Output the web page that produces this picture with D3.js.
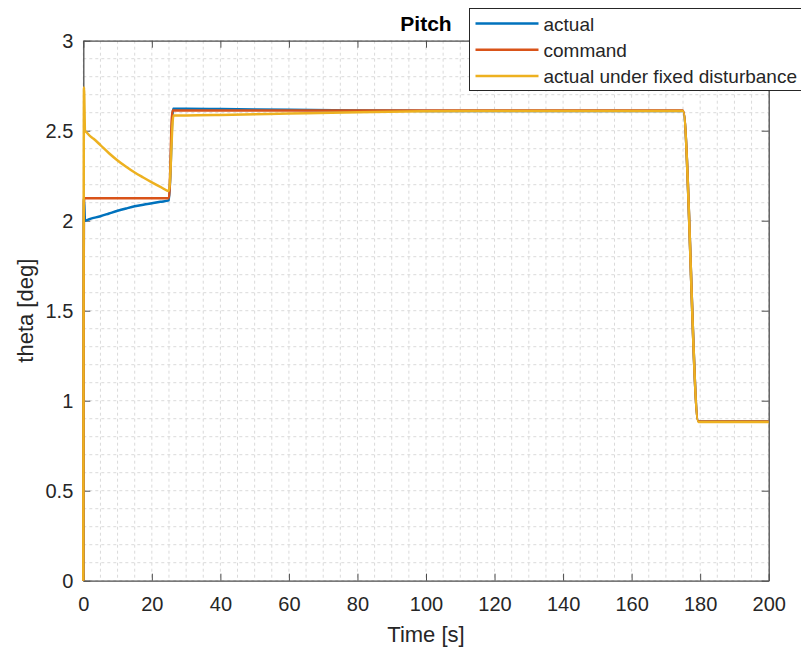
<!DOCTYPE html>
<html>
<head>
<meta charset="utf-8">
<script src="https://cdn.jsdelivr.net/npm/d3@7"></script>
<style>
  body { margin: 0; background: #fff; }
  svg { font-family: "Liberation Sans", Arial, sans-serif; }
  .axis path, .axis line { stroke: #4d4d4d; }
  .axis text { fill: #262626; font-size: 20px; }
  .grid line { stroke: #dadada; stroke-dasharray: 3,3; }
</style>
</head>
<body>
<div id="chart"></div>
<script>
// time samples [s] and theta [deg]
var tActual = [0, 0.2, 0.5, 2, 5, 7.5, 10, 12.5, 15, 17.5, 20, 22.5, 25, 26.2, 30, 40, 60, 80, 100, 175, 179.5, 200];
var actual  = [0, 2.12, 2.0, 2.01, 2.025, 2.04, 2.055, 2.068, 2.08, 2.089, 2.097, 2.105, 2.113, 2.622, 2.622, 2.62, 2.616, 2.612, 2.61, 2.61, 0.885, 0.885];

var tCommand = [0, 0.2, 25, 26, 175, 179.5, 200];
var command  = [0, 2.125, 2.125, 2.612, 2.612, 0.885, 0.885];

var tDist = [0, 0.2, 0.5, 1, 2, 3, 5, 7.5, 10, 12.5, 15, 17.5, 20, 22.5, 25, 26.3, 30, 40, 60, 80, 100, 120, 175, 179.5, 200];
var dist  = [0, 2.74, 2.5, 2.49, 2.47, 2.455, 2.42, 2.375, 2.335, 2.3, 2.268, 2.24, 2.213, 2.188, 2.165, 2.585, 2.585, 2.587, 2.595, 2.603, 2.608, 2.61, 2.61, 0.882, 0.882];

var seriesNames = ["actual", "command", "actual under fixed disturbance"];
var seriesColors = ["#0072BD", "#D95319", "#EDB120"];

var xTicks = [0, 20, 40, 60, 80, 100, 120, 140, 160, 180, 200];
var yTicks = [0, 0.5, 1, 1.5, 2, 2.5, 3];

var margin = {top: 40.7, right: 32.3, bottom: 67.3, left: 83.3};
var W = 801, H = 648;
var width = W - margin.left - margin.right;
var height = H - margin.top - margin.bottom;

var svg = d3.select("#chart").append("svg")
    .attr("width", W)
    .attr("height", H);

var g = svg.append("g")
    .attr("transform", "translate(" + margin.left + "," + margin.top + ")");

var x = d3.scaleLinear().domain([0, 200]).range([0, width]);
var y = d3.scaleLinear().domain([0, 3]).range([height, 0]);

// minor grid (every 5 s, every 0.1 deg)
var gx = d3.range(0, 201, 5);
var gy = d3.range(0, 31, 1).map(function(d) { return d / 10; });

g.append("g").attr("class", "grid")
    .selectAll("line").data(gx).enter().append("line")
    .attr("x1", function(d) { return x(d); })
    .attr("x2", function(d) { return x(d); })
    .attr("y1", 0).attr("y2", height);
g.append("g").attr("class", "grid")
    .selectAll("line").data(gy).enter().append("line")
    .attr("y1", function(d) { return y(d); })
    .attr("y2", function(d) { return y(d); })
    .attr("x1", 0).attr("x2", width);

// axes, ticks inside
g.append("g").attr("class", "axis")
    .attr("transform", "translate(0," + height + ")")
    .call(d3.axisBottom(x).tickValues(xTicks).tickSizeInner(-7).tickSizeOuter(0).tickPadding(16));
g.append("g").attr("class", "axis")
    .call(d3.axisTop(x).tickValues(xTicks).tickSizeInner(-7).tickSizeOuter(0).tickFormat(""));
g.append("g").attr("class", "axis")
    .call(d3.axisLeft(y).tickValues(yTicks).tickSizeInner(-7).tickSizeOuter(0).tickPadding(10).tickFormat(d3.format("")));
g.append("g").attr("class", "axis")
    .attr("transform", "translate(" + width + ",0)")
    .call(d3.axisRight(y).tickValues(yTicks).tickSizeInner(-7).tickSizeOuter(0).tickFormat(""));

svg.selectAll(".axis .domain").attr("stroke-width", 1.3);

// lines
var data = [
    tActual.map(function(t, i) { return [t, actual[i]]; }),
    tCommand.map(function(t, i) { return [t, command[i]]; }),
    tDist.map(function(t, i) { return [t, dist[i]]; })
];

var line = d3.line()
    .x(function(d) { return x(d[0]); })
    .y(function(d) { return y(d[1]); })
    .curve(d3.curveMonotoneX);

g.selectAll(".series").data(data).enter().append("path")
    .attr("class", "series")
    .attr("d", line)
    .attr("fill", "none")
    .attr("stroke", function(d, i) { return seriesColors[i]; })
    .attr("stroke-width", 2.5)
    .attr("stroke-linejoin", "round");

// title
svg.append("text")
    .attr("x", margin.left + width / 2)
    .attr("y", 30.5)
    .attr("text-anchor", "middle")
    .attr("font-size", "21px")
    .attr("font-weight", "bold")
    .attr("fill", "#000")
    .text("Pitch");

// axis labels
svg.append("text")
    .attr("x", margin.left + width / 2)
    .attr("y", 642)
    .attr("text-anchor", "middle")
    .attr("font-size", "22px")
    .attr("fill", "#262626")
    .text("Time [s]");
svg.append("text")
    .attr("transform", "translate(33," + (margin.top + height / 2) + ") rotate(-90)")
    .attr("text-anchor", "middle")
    .attr("font-size", "22px")
    .attr("fill", "#262626")
    .text("theta [deg]");

// legend
var leg = svg.append("g").attr("transform", "translate(469.5,8.5)");
leg.append("rect")
    .attr("width", 360).attr("height", 82)
    .attr("fill", "#fff")
    .attr("stroke", "#262626")
    .attr("stroke-width", 1);
seriesNames.forEach(function(name, i) {
    var ly = 15 + i * 26.3;
    leg.append("line")
        .attr("x1", 6).attr("x2", 69)
        .attr("y1", ly).attr("y2", ly)
        .attr("stroke", seriesColors[i])
        .attr("stroke-width", 2.5);
    leg.append("text")
        .attr("x", 74).attr("y", ly + 7)
        .attr("font-size", "19px")
        .attr("fill", "#262626")
        .text(name);
});
</script>
</body>
</html>
